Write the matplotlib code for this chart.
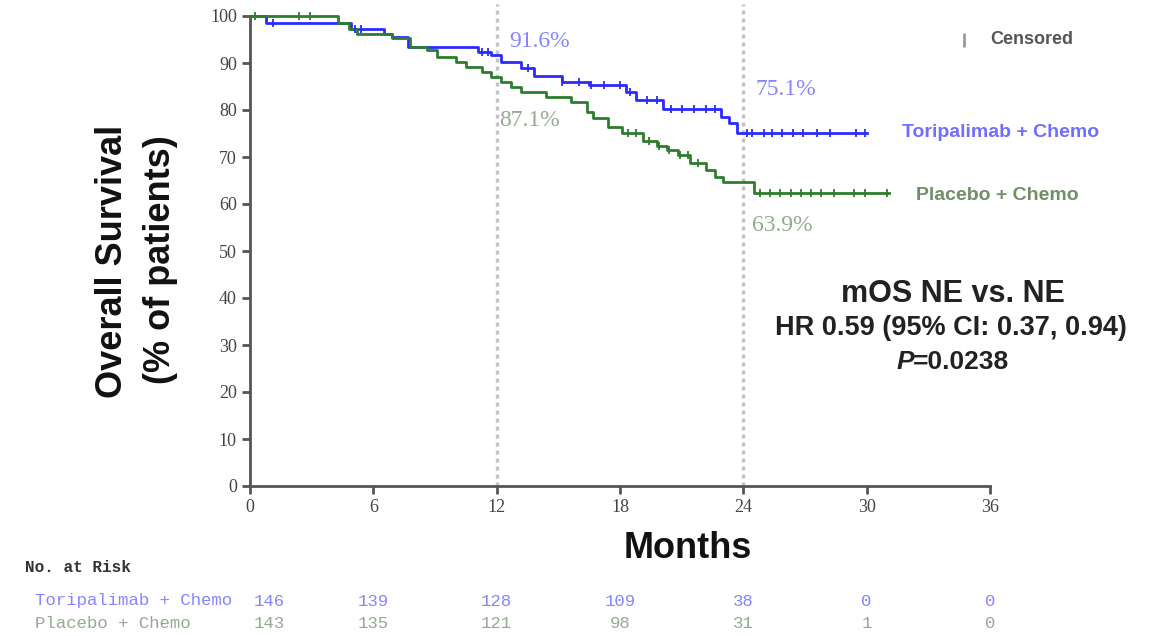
import numpy as np
import matplotlib
matplotlib.use("Agg")
import matplotlib.pyplot as plt
import matplotlib.transforms as mtrans

# ---------------- data ----------------
tori_t = [0, 0.8, 4.9, 6.5, 6.9, 7.7, 11.1, 11.7, 12.2, 13.2, 13.8, 15.2, 16.5, 18.3, 18.8, 20.1, 22.9, 23.3, 23.7, 30.0]
tori_s = [100, 98.6, 97.3, 96.2, 95.5, 93.4, 92.4, 91.6, 90.2, 88.9, 87.2, 86.0, 85.3, 83.9, 82.2, 80.3, 78.6, 77.2, 75.1, 75.1]
tori_cens = [1.1, 5.1, 5.4, 11.3, 11.6, 13.5, 15.2, 16.0, 16.6, 17.2, 18.0, 18.5, 19.3, 19.8, 20.5,
             21.0, 21.6, 22.2, 22.6, 24.2, 24.4, 25.0, 25.4, 25.9, 26.4, 26.9, 27.6, 28.2, 29.5, 29.9]

plac_t = [0, 4.3, 4.8, 5.2, 6.9, 7.8, 8.6, 9.1, 10.0, 10.5, 11.3, 11.7, 12.2, 12.7, 13.2, 14.4, 15.6, 16.4,
          16.7, 17.4, 18.1, 19.1, 19.8, 20.3, 20.8, 21.4, 22.2, 22.6, 23.0, 24.5, 31.1]
plac_s = [100, 98.5, 97.2, 96.2, 95.3, 93.3, 92.8, 91.3, 90.3, 89.2, 88.1, 87.1, 86.0, 85.0, 83.9, 82.8, 81.8, 79.6,
          78.3, 76.4, 75.1, 73.3, 72.4, 71.4, 70.4, 68.7, 67.2, 65.8, 64.6, 62.4, 62.4]
plac_cens = [0.25, 2.4, 2.9, 18.4, 18.8, 19.4, 19.9, 20.4, 20.9, 21.3, 21.8, 24.8, 25.3, 25.8, 26.3, 26.8,
             27.3, 27.8, 28.4, 29.4, 29.9, 31.0]

milestone_months = [12, 24]
tori_labels = ["91.6%", "75.1%"]
plac_labels = ["87.1%", "63.9%"]

risk_months = [0, 6, 12, 18, 24, 30, 36]
tori_risk = [146, 139, 128, 109, 38, 0, 0]
plac_risk = [143, 135, 121, 98, 31, 1, 0]

arm_names = ["Toripalimab + Chemo", "Placebo + Chemo"]
x_ticks = [0, 6, 12, 18, 24, 30, 36]
y_ticks = list(range(0, 101, 10))

# ---------------- style ----------------
BLUE = "#2a2aff"
GREEN = "#2e7d2e"
BLUE_TXT = "#8585ff"
GREEN_TXT = "#93ab8f"
GREEN_LBL = "#708f66"
AX_COL = "#555555"
SERIF = "Liberation Serif"
MONO = "Liberation Mono"
SANS = "Liberation Sans"

fig = plt.figure(figsize=(11.58, 6.36), dpi=100)
ax = fig.add_axes([250 / 1158, 150 / 636, 740 / 1158, 470 / 636])
ax.set_xlim(0, 36)
ax.set_ylim(0, 100)


def surv_at(times, surv, t):
    idx = np.searchsorted(times, t, side="right") - 1
    return np.asarray(surv)[idx]


for m in milestone_months:
    ax.plot([m, m], [0, 102.5], color="#c2c2c2", ls=(0, (1.2, 1.2)), lw=2.4, clip_on=False, zorder=1)

for t, s, c, col in [(tori_t, tori_s, tori_cens, BLUE), (plac_t, plac_s, plac_cens, GREEN)]:
    ax.step(t, s, where="post", color=col, lw=2.0, clip_on=False, zorder=3)
    ax.plot(c, surv_at(t, s, c), ls="none", marker="|", ms=6, mew=1.3, color=col, clip_on=False, zorder=4)

# milestone labels
ax.text(12.6, 94.6, tori_labels[0], color=BLUE_TXT, fontsize=17, family=SERIF, va="center")
ax.text(12.1, 77.8, plac_labels[0], color=GREEN_TXT, fontsize=17, family=SERIF, va="center")
ax.text(24.6, 84.3, tori_labels[1], color=BLUE_TXT, fontsize=17, family=SERIF, va="center")
ax.text(24.4, 55.5, plac_labels[1], color=GREEN_TXT, fontsize=17, family=SERIF, va="center")

# arm labels
ax.text(31.7, 75.3, arm_names[0], color="#6f6fff", fontsize=14, family=SANS, weight="bold", va="center")
ax.text(32.4, 61.8, arm_names[1], color=GREEN_LBL, fontsize=14, family=SANS, weight="bold", va="center")

# censored legend
ax.plot([34.75], [94.9], ls="none", marker="|", ms=10, mew=2, color="#9a9a9a", clip_on=False)
ax.text(36.0, 94.9, "Censored", color="#555555", fontsize=13, family=SANS, weight="bold", va="center")

# stats
ax.text(34.2, 40.9, "mOS NE vs. NE", fontsize=22, family=SANS, weight="bold", ha="center", va="center", color="#222222")
ax.text(34.1, 33.6, "HR 0.59 (95% CI: 0.37, 0.94)", fontsize=19.5, family=SANS, weight="bold", ha="center", va="center", color="#222222")
ax.text(32.3, 26.4, "P", fontsize=19, family=SANS, weight="bold", style="italic", ha="right", va="center", color="#222222")
ax.text(32.25, 26.4, "=0.0238", fontsize=19, family=SANS, weight="bold", ha="left", va="center", color="#222222")

# axes styling
for sp in ["top", "right"]:
    ax.spines[sp].set_visible(False)
for sp in ["left", "bottom"]:
    ax.spines[sp].set_color(AX_COL)
    ax.spines[sp].set_linewidth(2)
ax.set_xticks(x_ticks)
ax.set_yticks(y_ticks)
ax.tick_params(axis="both", colors=AX_COL, width=2, length=6, labelsize=13)
for lab in ax.get_xticklabels() + ax.get_yticklabels():
    lab.set_family(SERIF)
    lab.set_color("#444444")

fig.text(112 / 1158, 1 - 261 / 636, "Overall Survival", rotation=90, fontsize=26, family=SANS, weight="bold",
         ha="center", va="center", color="#111111")
fig.text(160 / 1158, 1 - 260 / 636, "(% of patients)", rotation=90, fontsize=26, family=SANS, weight="bold",
         ha="center", va="center", color="#111111")
fig.text(688 / 1158, 1 - 548 / 636, "Months", fontsize=26, family=SANS, weight="bold",
         ha="center", va="center", color="#111111")

# risk table
fig.text(25 / 1158, 1 - 568 / 636, "No. at Risk", fontsize=11.5, family=MONO, weight="bold", va="center", color="#333333")
fig.text(35 / 1158, 1 - 601 / 636, arm_names[0], fontsize=12.5, family=MONO, va="center", color=BLUE_TXT)
fig.text(35 / 1158, 1 - 623 / 636, arm_names[1], fontsize=12.5, family=MONO, va="center", color=GREEN_TXT)
btrans = mtrans.blended_transform_factory(ax.transData, fig.transFigure)
for i, m in enumerate(risk_months):
    xm = m if i > 0 else 0.95
    ax.text(xm, 1 - 601 / 636, str(tori_risk[i]), transform=btrans, fontsize=12.5, family=MONO,
            ha="center", va="center", color=BLUE_TXT, clip_on=False)
    ax.text(xm, 1 - 623 / 636, str(plac_risk[i]), transform=btrans, fontsize=12.5, family=MONO,
            ha="center", va="center", color=GREEN_TXT, clip_on=False)

fig.savefig("out.png", dpi=100)
